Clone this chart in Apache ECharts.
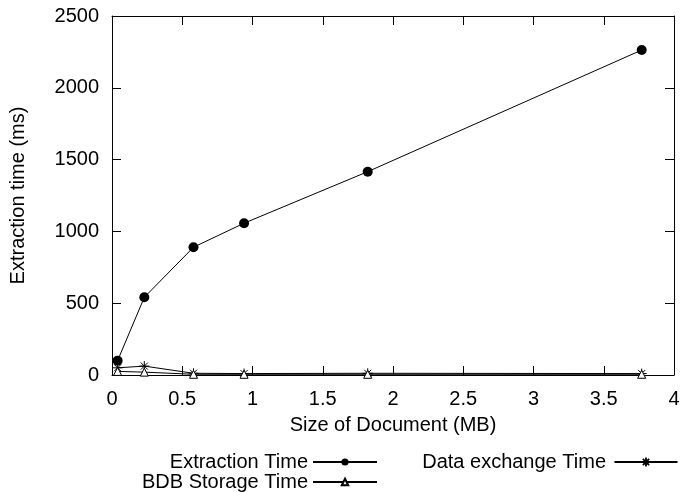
<!DOCTYPE html>
<html>
<head>
<meta charset="utf-8">
<script src="https://cdn.jsdelivr.net/npm/echarts@6/dist/echarts.min.js"></script>
<style>html,body{margin:0;padding:0;background:#fff}#c{width:684px;height:492px}</style>
</head>
<body>
<div id="c"></div>
<script>
const sizesMB = [0.04, 0.23, 0.58, 0.94, 1.82, 3.77];
const extractionTime = [100, 541, 890, 1057, 1416, 2263];
const dataExchangeTime = [50, 62, 12, 10, 12, 10];
const bdbStorageTime = [25, 20, 5, 5, 5, 5];
const xTicks = [0, 0.5, 1, 1.5, 2, 2.5, 3, 3.5, 4];
const yTicks = [0, 500, 1000, 1500, 2000, 2500];

const FONT = 'Liberation Sans, Arial, sans-serif';
const FS = 20;
const pairs = (xs, ys) => xs.map((x, i) => [x, ys[i]]);
const star = 'path://M0,5L10,5M5,0L5,10M1.5,1.5L8.5,8.5M1.5,8.5L8.5,1.5';
const starLegend = 'path://M0,5L70,5M31,5L39,5M35,0L35,10M31.5,1.5L38.5,8.5M31.5,8.5L38.5,1.5';

const chart = echarts.init(document.getElementById('c'), null, {renderer: 'canvas'});
const axisCommon = {
  axisLine: {show: true, onZero: false, lineStyle: {color: '#000', width: 1}},
  axisTick: {show: true, inside: true, length: 9, lineStyle: {color: '#000'}},
  splitLine: {show: false}
};
const legendText = {fontSize: FS, color: '#000', fontFamily: FONT};
chart.setOption({
  animation: false,
  textStyle: {fontFamily: FONT},
  grid: {left: 112, right: 10, top: 16, bottom: 117, containLabel: false},
  xAxis: [
    Object.assign({type: 'value', min: xTicks[0], max: xTicks[xTicks.length - 1], interval: 0.5,
      name: 'Size of Document (MB)', nameLocation: 'middle', nameGap: 40,
      nameTextStyle: {fontSize: FS, color: '#000', fontFamily: FONT},
      axisLabel: {fontSize: FS, color: '#000', margin: 14, fontFamily: FONT}}, axisCommon),
    Object.assign({type: 'value', position: 'top', min: 0, max: 4, interval: 0.5,
      axisLabel: {show: false}}, axisCommon)
  ],
  yAxis: [
    Object.assign({type: 'value', min: yTicks[0], max: yTicks[yTicks.length - 1], interval: 500,
      name: 'Extraction time (ms)', nameLocation: 'middle', nameGap: 84,
      nameTextStyle: {fontSize: FS, color: '#000', fontFamily: FONT},
      axisLabel: {fontSize: FS, color: '#000', margin: 13, fontFamily: FONT, formatter: v => String(v)}}, axisCommon),
    Object.assign({type: 'value', position: 'right', min: 0, max: 2500, interval: 500,
      axisLabel: {show: false}}, axisCommon)
  ],
  legend: [
    {data: ['Extraction Time'], right: 306, top: 452, padding: 0, align: 'right', itemWidth: 64, itemHeight: 9,
     itemGap: 0, textStyle: legendText},
    {data: ['BDB Storage Time'], right: 306, top: 472, padding: 0, align: 'right', itemWidth: 64, itemHeight: 8,
     itemGap: 0, textStyle: legendText},
    {data: [{name: 'Data exchange Time', icon: starLegend, itemStyle: {color: 'none', borderColor: '#000', borderWidth: 1.8}}],
     right: 4, top: 452, padding: 0, align: 'right', itemWidth: 70, itemHeight: 9,
     itemGap: 0, textStyle: legendText}
  ],
  series: [
    {name: 'Extraction Time', type: 'line', data: pairs(sizesMB, extractionTime),
     symbol: 'circle', symbolSize: 10, showAllSymbol: true,
     lineStyle: {color: '#000', width: 1}, itemStyle: {color: '#000', borderWidth: 0}},
    {name: 'Data exchange Time', type: 'line', data: pairs(sizesMB, dataExchangeTime),
     symbol: star, symbolSize: 10,
     lineStyle: {color: '#000', width: 1}, itemStyle: {color: 'none', borderColor: '#000', borderWidth: 1}},
    {name: 'BDB Storage Time', type: 'line', data: pairs(sizesMB, bdbStorageTime),
     symbol: 'triangle', symbolSize: 8,
     lineStyle: {color: '#000', width: 1}, itemStyle: {color: '#fff', borderColor: '#000', borderWidth: 1}}
  ]
});
</script>
</body>
</html>
